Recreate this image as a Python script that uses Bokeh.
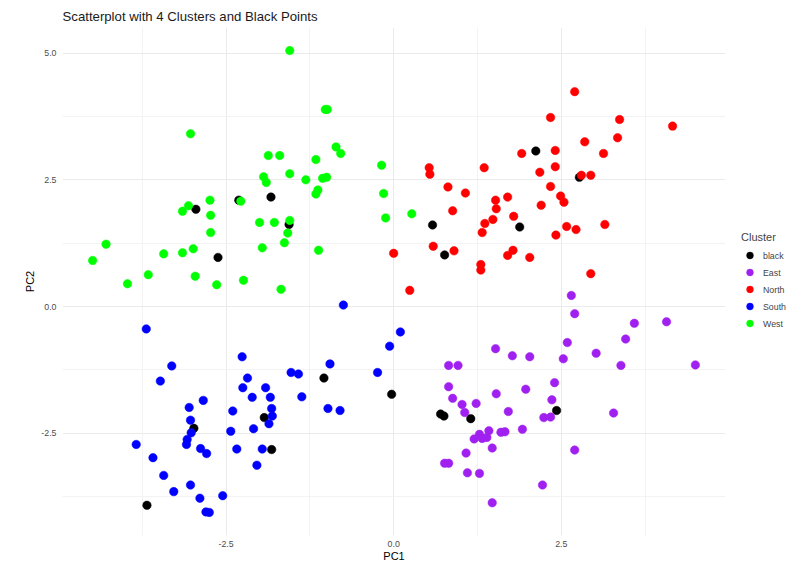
from bokeh.plotting import figure
from bokeh.models import Legend, LegendItem, FixedTicker, PrintfTickFormatter, Range1d
from bokeh.embed import file_html
from bokeh.resources import INLINE

# Cluster coordinates (PC1, PC2)
black_x = [-2.95, -2.31, -1.83, -1.56, -2.62, 2.12, 2.77, 0.58, 0.76, 1.88,
           -3.68, -2.98, -1.93, -1.82, -1.04, -0.03, 0.70, 0.75, 1.15, 2.43]
black_y = [1.92, 2.10, 2.16, 1.62, 0.97, 3.07, 2.55, 1.61, 1.02, 1.57,
           -3.92, -2.40, -2.19, -2.82, -1.41, -1.73, -2.12, -2.16, -2.21, -2.05]

east_x = [2.65, 2.70, 3.59, 4.07, 2.59, 3.46, 1.52, 1.77, 2.03, 2.53, 3.02, 0.82, 0.96,
          3.39, 4.50, 0.82, 2.40, 1.97, 1.53, 0.88, 2.36, 1.02, 1.23, 1.06, 1.71, 3.28,
          2.24, 2.34, 1.92, 1.42, 1.60, 1.66, 1.28, 1.20, 1.32, 1.39, 1.47, 2.70, 1.08,
          0.76, 0.82, 1.10, 1.28, 2.22, 1.47]
east_y = [0.22, -0.14, -0.33, -0.30, -0.71, -0.64, -0.83, -0.97, -0.99, -1.03, -0.92, -1.16,
          -1.16, -1.16, -1.15, -1.58, -1.50, -1.63, -1.72, -1.81, -1.84, -1.93, -1.91, -2.09,
          -2.07, -2.10, -2.19, -2.18, -2.42, -2.45, -2.48, -2.47, -2.52, -2.61, -2.60, -2.58,
          -2.79, -2.83, -2.89, -3.09, -3.09, -3.28, -3.29, -3.52, -3.87]

north_x = [2.70, 2.34, 3.37, 4.16, 3.34, 2.85, 3.13, 1.91, 2.41, 2.41, 2.18, 1.35, 0.53,
           0.54, 2.80, 2.94, 2.34, 0.81, 1.07, 2.49, 2.54, 1.70, 1.52, 1.53, 2.20, 0.88,
           1.79, 1.48, 1.36, 1.32, 2.58, 2.72, 3.15, 2.42, 0.59, 0.90, 0.00, 1.78, 1.70,
           2.03, 1.30, 1.30, 2.94, 0.24]
north_y = [4.24, 3.73, 3.69, 3.56, 3.33, 3.25, 3.02, 3.02, 3.08, 2.76, 2.65, 2.74, 2.74,
           2.61, 2.59, 2.59, 2.37, 2.36, 2.24, 2.18, 2.06, 2.16, 2.10, 1.93, 2.00, 1.89,
           1.78, 1.72, 1.64, 1.46, 1.58, 1.52, 1.62, 1.41, 1.19, 1.10, 1.05, 1.11, 1.01,
           0.97, 0.83, 0.72, 0.65, 0.32]

south_x = [-0.75, -3.69, 0.10, -0.06, -3.31, -2.26, -0.95, -0.24, -1.53, -1.42, -3.48, -2.18,
           -2.25, -1.91, -2.11, -1.84, -1.37, -2.84, -3.05, -1.82, -1.81, -1.86, -2.40, -0.98,
           -0.80, -3.03, -2.09, -2.43, -3.02, -3.08, -3.09, -3.84, -2.88, -2.79, -2.34, -1.96,
           -3.59, -2.04, -3.43, -3.03, -3.28, -2.89, -2.55, -2.80, -2.75]
south_y = [0.03, -0.44, -0.50, -0.78, -1.17, -0.99, -1.13, -1.30, -1.30, -1.33, -1.47, -1.41,
           -1.60, -1.60, -1.79, -1.79, -1.78, -1.85, -1.99, -2.01, -2.16, -2.31, -2.06, -2.01,
           -2.05, -2.24, -2.41, -2.46, -2.49, -2.62, -2.72, -2.72, -2.80, -2.90, -2.81, -2.81,
           -2.98, -3.13, -3.33, -3.52, -3.65, -3.78, -3.73, -4.05, -4.06]

west_x = [-1.55, -1.02, -0.99, -3.03, -0.86, -0.79, -1.87, -1.70, -1.16, -0.18, -1.55, -1.94,
          -1.90, -1.31, -1.06, -1.00, -1.13, -1.16, -0.15, -2.74, -2.28, -3.06, -3.15, -2.73,
          -0.12, -2.00, -1.78, -1.55, -1.58, -2.73, -1.63, -4.29, -4.49, -3.43, -3.15, -2.99,
          -1.96, -1.12, -3.97, -3.66, -2.96, -2.64, -2.24, -1.68, 0.27]
west_y = [5.05, 3.89, 3.89, 3.41, 3.15, 3.02, 2.98, 2.98, 2.90, 2.79, 2.62, 2.56, 2.45, 2.50,
          2.53, 2.55, 2.30, 2.22, 2.23, 2.10, 2.08, 1.99, 1.88, 1.80, 1.75, 1.66, 1.66, 1.70,
          1.45, 1.46, 1.26, 1.23, 0.91, 1.04, 1.06, 1.14, 1.16, 1.11, 0.45, 0.63, 0.60, 0.43,
          0.52, 0.34, 1.83]

clusters = ["black", "East", "North", "South", "West"]
colors = ["#000000", "#A020F0", "#FF0000", "#0000FF", "#00FF00"]
xs = [black_x, east_x, north_x, south_x, west_x]
ys = [black_y, east_y, north_y, south_y, west_y]

x_ticks = [-2.5, 0.0, 2.5]
y_ticks = [-2.5, 0.0, 2.5, 5.0]
x_minor = [-3.75, -1.25, 1.25, 3.75]
y_minor = [-3.75, -1.25, 1.25, 3.75]

FONT = "Liberation Sans"

# 5% padding around the data extent on each axis
all_x = [v for s in xs for v in s]
all_y = [v for s in ys for v in s]
xpad = 0.05 * (max(all_x) - min(all_x))
ypad = 0.05 * (max(all_y) - min(all_y))

p = figure(frame_width=663, frame_height=508, output_backend="svg", toolbar_location=None,
           x_range=Range1d(min(all_x) - xpad, max(all_x) + xpad),
           y_range=Range1d(min(all_y) - ypad, max(all_y) + ypad),
           min_border_left=62, min_border_right=79, min_border_top=27, min_border_bottom=35,
           title="Scatterplot with 4 Clusters and Black Points")

p.outline_line_color = None
p.background_fill_color = "white"
p.border_fill_color = "white"

p.title.text_font = FONT
p.title.text_font_size = "13.2px"
p.title.text_font_style = "normal"
p.title.text_color = "#1a1a1a"
p.title.align = "left"
p.title.standoff = 7

p.xaxis.ticker = FixedTicker(ticks=x_ticks, minor_ticks=x_minor)
p.yaxis.ticker = FixedTicker(ticks=y_ticks, minor_ticks=y_minor)
for ax in (p.xaxis[0], p.yaxis[0]):
    ax.formatter = PrintfTickFormatter(format="%.1f")
    ax.axis_line_color = None
    ax.major_tick_line_color = None
    ax.minor_tick_line_color = None
    ax.major_tick_out = 0
    ax.major_tick_in = 0
    ax.major_label_text_font = FONT
    ax.major_label_text_font_size = "8.8px"
    ax.major_label_text_color = "#4D4D4D"
    ax.axis_label_text_font = FONT
    ax.axis_label_text_font_size = "11px"
    ax.axis_label_text_font_style = "normal"
    ax.axis_label_text_color = "#000000"

p.xaxis.major_label_standoff = 1
p.xaxis.axis_label_standoff = 0
p.yaxis.major_label_standoff = 2
p.yaxis.axis_label_standoff = 2

p.xaxis.axis_label = "PC1"
p.yaxis.axis_label = "PC2"

p.grid.grid_line_color = "#EBEBEB"
p.grid.grid_line_width = 1
p.grid.minor_grid_line_color = "#F3F3F3"
p.grid.minor_grid_line_width = 1

items = []
for name, col, x, y in zip(clusters, colors, xs, ys):
    r = p.scatter(x, y, size=8.5, fill_color=col, line_color=col, line_width=0.5)
    items.append(LegendItem(label=name, renderers=[r]))

legend = Legend(items=items, location="center_left", title="Cluster",
                title_text_font=FONT, title_text_font_size="11px",
                title_text_font_style="normal", title_standoff=4,
                label_text_font=FONT, label_text_font_size="8.8px",
                glyph_width=17, glyph_height=17, label_height=17,
                label_standoff=5, spacing=0, padding=0, margin=16,
                border_line_color=None, background_fill_alpha=0)
p.add_layout(legend, "right")

open("out.html", "w").write(file_html(p, INLINE))
